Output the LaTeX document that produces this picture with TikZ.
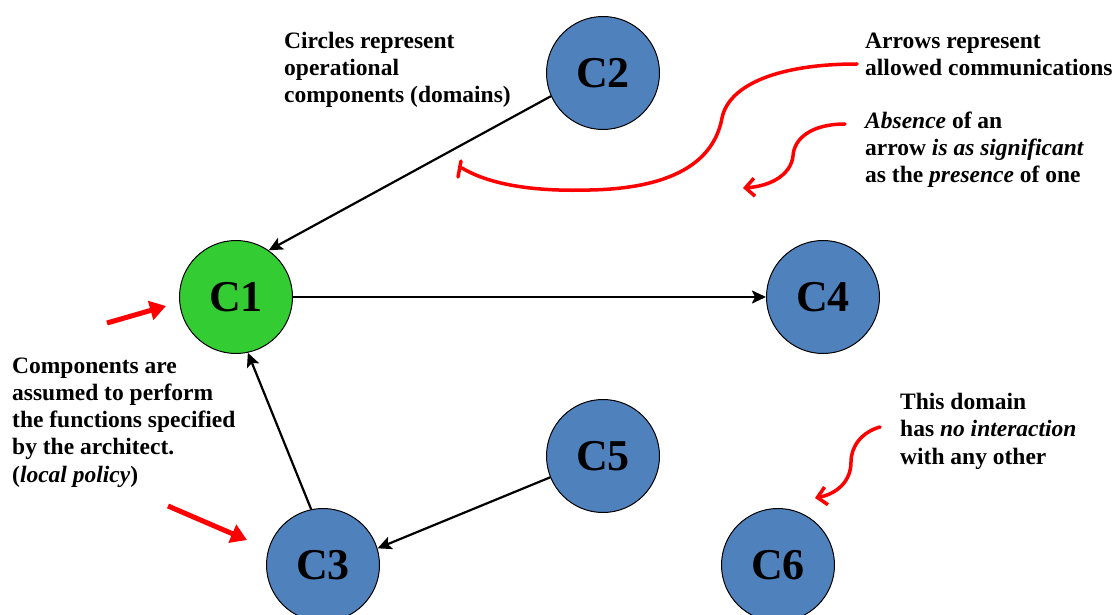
\documentclass[tikz,border=0pt]{standalone}
\usepackage{fontspec}
\setmainfont{Liberation Serif}
\usetikzlibrary{arrows.meta}
\definecolor{domblue}{RGB}{79,129,189}
\definecolor{domgreen}{RGB}{51,204,51}
\definecolor{note}{RGB}{255,0,0}
\tikzset{
  comp/.style={circle, draw=black, line width=1pt, minimum size=113pt, inner sep=0pt,
    font=\fontsize{44}{44}\selectfont\bfseries},
  conn/.style={draw=black, line width=2.2pt, -{Stealth[length=14pt,width=13pt,inset=3pt]}},
  % anchored on the baseline of the last line
  label/.style={align=left, anchor=base west, inner sep=0pt,
    font=\fontsize{23.5}{27.2}\selectfont\bfseries},
  fatarrow/.style={draw=note, line width=5pt, -{Triangle[length=16pt,width=19pt]}},
  curvy/.style={draw=note, line width=3.5pt, line cap=round,
    -{Straight Barb[length=9pt,width=18pt,line width=3.5pt]}}
}
\begin{document}
\begin{tikzpicture}[x=1pt,y=-1pt]
\useasboundingbox (0,0) rectangle (1120,615);

% domains
\node[comp, fill=domblue]  (c2) at (603,73)  {C2};
\node[comp, fill=domgreen] (c1) at (236,297) {C1};
\node[comp, fill=domblue]  (c4) at (823,297) {C4};
\node[comp, fill=domblue]  (c5) at (603,456) {C5};
\node[comp, fill=domblue]  (c3) at (323,565) {C3};
\node[comp, fill=domblue]  (c6) at (778,565) {C6};

% allowed communications
\draw[conn] (c2.204) -- (c1.55);
\draw[conn] (c1.east) -- (c4.west);
\draw[conn] (c3.102) -- (c1.-78);
\draw[conn] (c5.202) -- (c3.17);

% annotations
\node[label] (tcirc) at (284,103) {Circles represent\\operational\\components (domains)};
\node[label] (tarrows) at (865,76) {Arrows represent\\allowed communications};
\node[label] (tabs) at (865,183) {\textit{Absence} of an\\arrow \textit{is as significant}\\as the \textit{presence} of one};
\node[label] (tcomp) at (12,482) {Components are\\assumed to perform\\the functions specified\\by the architect.\\(\textit{local policy})};
\node[label] (tdom) at (900,464) {This domain\\has \textit{no interaction}\\with any other};

% red pointers
\coordinate (p1s) at (857,64);
\coordinate (p1e) at (462,168);
\draw[note, line width=3.5pt, line cap=round]
  (p1s) .. controls (780,64) and (729,84) .. (722,118)
        .. controls (716,150) and (690,188) .. (590,190)
        .. controls (525,192) and (485,182) .. (p1e);
\draw[note, line width=3.5pt, line cap=round] (461,161) -- (458,177);

\coordinate (p2s) at (845,124);
\coordinate (p2e) at (743,188);
\draw[curvy] (p2s) .. controls (812,124) and (794,138) .. (793,156)
             .. controls (791,174) and (772,186) .. (p2e);

\coordinate (p3s) at (880,427);
\coordinate (p3e) at (815,498);
\draw[curvy] (p3s) .. controls (862,432) and (851,446) .. (851,462)
             .. controls (851,482) and (836,494) .. (p3e);

\coordinate (p4s) at (107,323);
\coordinate (p4e) at (166,306);
\draw[fatarrow] (p4s) -- (p4e);

\coordinate (p5s) at (168,506);
\coordinate (p5e) at (247,540);
\draw[fatarrow] (p5s) -- (p5e);
\end{tikzpicture}
\end{document}
